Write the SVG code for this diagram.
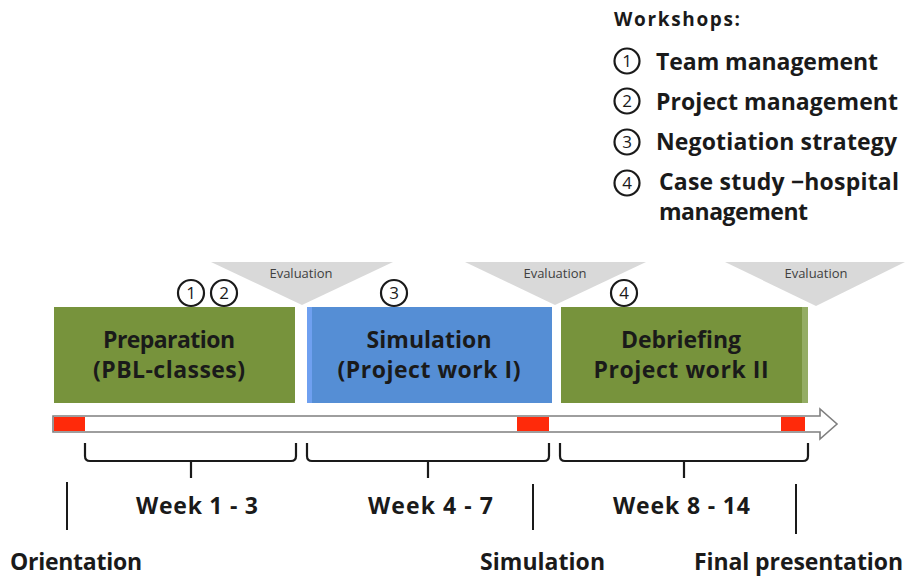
<svg xmlns="http://www.w3.org/2000/svg" width="905" height="577" viewBox="0 0 905 577">
<style>
  .t{font-family:"Open Sans","Liberation Sans",sans-serif;font-weight:700;fill:#1a1a1a}
  .box{font-size:23px;text-anchor:middle}
  .eval{font-family:"Open Sans","Liberation Sans",sans-serif;font-size:13px;fill:#404040;text-anchor:middle}
  .num{font-family:"Open Sans","Liberation Sans",sans-serif;font-size:17px;fill:#1a1a1a;text-anchor:middle}
  .circ{fill:#fff;stroke:#1a1a1a;stroke-width:2.2}
  .tri{fill:#d9d9d9}
  .brace{fill:none;stroke:#1a1a1a;stroke-width:2.2;stroke-linejoin:round}
  .vline{stroke:#1a1a1a;stroke-width:2}
  .red{fill:#ff2a0a}
</style>
<rect width="905" height="577" fill="#fff"/>

<g id="legend">
  <text class="t" x="614" y="26" font-size="19" textLength="126">Workshops:</text>
  <circle class="circ" cx="627" cy="61" r="12.5"/><text class="num" x="627" y="67">1</text>
  <text class="t" x="656" y="70" font-size="23" textLength="222">Team management</text>
  <circle class="circ" cx="627" cy="101" r="12.5"/><text class="num" x="627" y="107">2</text>
  <text class="t" x="656" y="110" font-size="23" textLength="242">Project management</text>
  <circle class="circ" cx="627" cy="142" r="12.5"/><text class="num" x="627" y="148">3</text>
  <text class="t" x="656" y="150" font-size="23" textLength="241">Negotiation strategy</text>
  <circle class="circ" cx="627" cy="183" r="12.5"/><text class="num" x="627" y="189">4</text>
  <text class="t" x="659" y="190" font-size="23" textLength="240">Case study −hospital</text>
  <text class="t" x="659" y="220" font-size="23" textLength="149">management</text>
</g>

<g id="evaluations">
  <polygon class="tri" points="211,262 393,262 302,305"/>
  <text class="eval" x="301" y="278">Evaluation</text>
  <polygon class="tri" points="465,262 646,262 555,305"/>
  <text class="eval" x="555" y="278">Evaluation</text>
  <polygon class="tri" points="725,262 905,262 816,306"/>
  <text class="eval" x="816" y="278">Evaluation</text>
</g>

<g id="workshop-markers">
  <circle class="circ" cx="191" cy="293" r="13"/><text class="num" x="191" y="299">1</text>
  <circle class="circ" cx="224" cy="293" r="13"/><text class="num" x="224" y="299">2</text>
  <circle class="circ" cx="394" cy="293" r="13"/><text class="num" x="394" y="299">3</text>
  <circle class="circ" cx="624" cy="293" r="13"/><text class="num" x="624" y="299">4</text>
</g>

<g id="preparation">
  <rect x="54" y="307" width="241" height="96" fill="#77933c"/>
  <text class="t box" x="169" y="348" textLength="132">Preparation</text>
  <text class="t box" x="169" y="378" textLength="152">(PBL-classes)</text>
</g>
<g id="simulation">
  <rect x="307" y="307" width="245" height="96" fill="#558ed5"/>
  <rect x="307" y="307" width="5" height="96" fill="#6fa0f0"/>
  <text class="t box" x="429" y="348" textLength="125">Simulation</text>
  <text class="t box" x="429" y="378" textLength="183">(Project work I)</text>
</g>
<g id="debriefing">
  <rect x="561" y="307" width="246" height="96" fill="#77933c"/>
  <rect x="802" y="307" width="6" height="96" fill="#94ad64"/>
  <text class="t box" x="681" y="348" textLength="120">Debriefing</text>
  <text class="t box" x="681" y="378" textLength="175">Project work II</text>
</g>

<g id="timeline">
  <path d="M53,416 H820 V409 L837,424 L820,439 V432 H53 Z" fill="#fff" stroke="#7f7f7f" stroke-width="1.6" stroke-linejoin="miter"/>
  <rect class="red" x="54" y="417" width="31" height="14"/>
  <rect class="red" x="517" y="417" width="32" height="14"/>
  <rect class="red" x="781" y="417" width="24" height="14"/>
</g>

<g id="connectors">
  <path class="brace" d="M85,443 V456 Q85,461 90,461 H191 V478 M191,461 H291 Q296,461 296,456 V443"/>
  <path class="brace" d="M307,443 V456 Q307,461 312,461 H428 V478 M428,461 H544 Q549,461 549,456 V443"/>
  <path class="brace" d="M560,443 V456 Q560,461 565,461 H684 V478 M684,461 H803 Q808,461 808,456 V443"/>
  <line class="vline" x1="67" y1="482" x2="67" y2="530"/>
  <line class="vline" x1="533" y1="484" x2="533" y2="530"/>
  <line class="vline" x1="796" y1="484" x2="796" y2="534"/>
</g>

<g id="weeks">
  <text class="t" x="136" y="514" font-size="23" textLength="122">Week 1 - 3</text>
  <text class="t" x="368" y="514" font-size="23" textLength="125">Week 4 - 7</text>
  <text class="t" x="613" y="514" font-size="23" textLength="137">Week 8 - 14</text>
</g>

<g id="milestones">
  <text class="t" x="10" y="570" font-size="23" textLength="132">Orientation</text>
  <text class="t" x="480" y="570" font-size="23" textLength="125">Simulation</text>
  <text class="t" x="694" y="570" font-size="23" textLength="209">Final presentation</text>
</g>
</svg>
